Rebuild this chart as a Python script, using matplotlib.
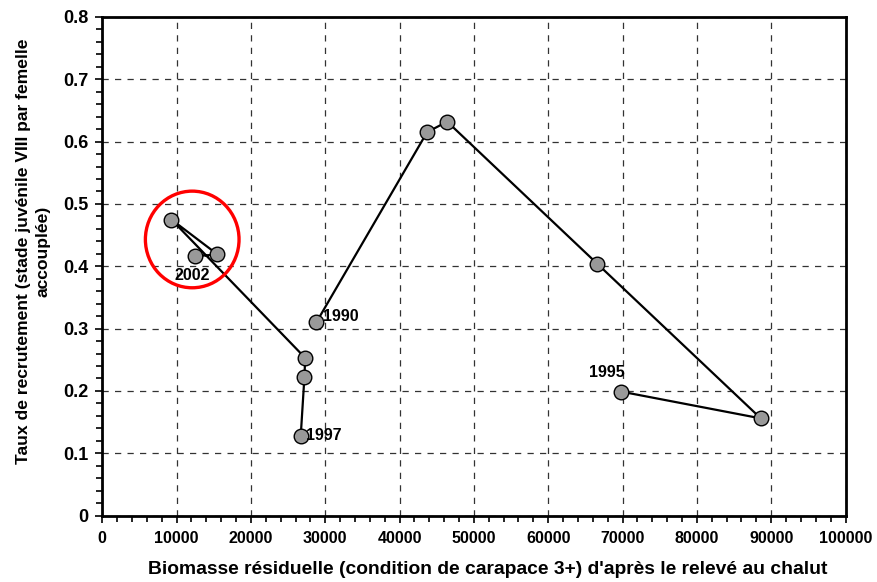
import matplotlib.pyplot as plt
import numpy as np
from matplotlib.patches import Ellipse
from matplotlib.ticker import MultipleLocator

plt.rcParams['font.family'] = ['Liberation Sans', 'DejaVu Sans']
plt.rcParams['font.weight'] = 'bold'

# residual biomass vs recruitment rate, 1990-2002 (no survey in 1996)
years = [1990, 1991, 1992, 1993, 1994, 1995, 1996,
         1997, 1998, 1999, 2000, 2001, 2002]
biomass = [28800, 43700, 46400, 66600, 88600, 69800, np.nan,
           26700, 27200, 27300, 9300, 15500, 12500]
recrut = [0.310, 0.615, 0.632, 0.404, 0.156, 0.199, np.nan,
          0.128, 0.223, 0.253, 0.475, 0.419, 0.416]
# label offsets in points, with alignment
labelled = {1990: (4.5, 4, 'left'), 1995: (-10, 14, 'center'),
            1997: (4, 0, 'left'), 2002: (-2, -14, 'center')}

fig = plt.figure(figsize=(8.78, 5.82), dpi=100)
ax = fig.add_axes([0.1165, 0.114, 0.8465, 0.857])

ax.plot(biomass, recrut, color='black', lw=1.6, zorder=3)
ax.plot(biomass, recrut, ls='none', marker='o', ms=10.5, mfc='#999999',
        mec='black', mew=1.0, zorder=4)

for yr, (dx, dy, ha) in labelled.items():
    i = years.index(yr)
    ax.annotate(str(yr), (biomass[i], recrut[i]), xytext=(dx, dy),
                textcoords='offset points', fontsize=11.5, fontweight='bold',
                va='center', ha=ha, zorder=5)

# highlight the recent years
ax.add_patch(Ellipse((12100, 0.443), 12600, 0.155, fill=False,
                     ec='red', lw=2.4, zorder=5))

ax.set_xlim(0, 100000)
ax.set_ylim(0, 0.8)
ax.xaxis.set_major_locator(MultipleLocator(10000))
ax.xaxis.set_minor_locator(MultipleLocator(2000))
ax.yaxis.set_major_locator(MultipleLocator(0.1))
ax.yaxis.set_minor_locator(MultipleLocator(0.02))
ax.set_yticklabels(['0' if v == 0 else f'{v:.1f}' for v in ax.get_yticks()])

ax.grid(True, which='major', color='#333333', ls=(0, (5, 5)), lw=0.9)
ax.tick_params(which='major', direction='out', length=5, width=1.2, pad=6)
ax.tick_params(axis='x', labelsize=11.5)
ax.tick_params(axis='y', labelsize=13, pad=5)
ax.tick_params(which='minor', direction='out', length=4, width=1.2)
for lab in ax.get_xticklabels() + ax.get_yticklabels():
    lab.set_fontweight('bold')
for s in ax.spines.values():
    s.set_linewidth(2)

ax.set_xlabel("Biomasse résiduelle (condition de carapace 3+) d'après le relevé au chalut",
              fontsize=13.9, fontweight='bold', labelpad=11)
ax.xaxis.label.set_x(0.518)
ax.set_ylabel('Taux de recrutement (stade juvénile VIII par femelle\naccouplée)',
              fontsize=12.6, fontweight='bold', labelpad=9, linespacing=1.4)
ax.yaxis.label.set_y(0.53)

fig.savefig('out.png', dpi=100)
